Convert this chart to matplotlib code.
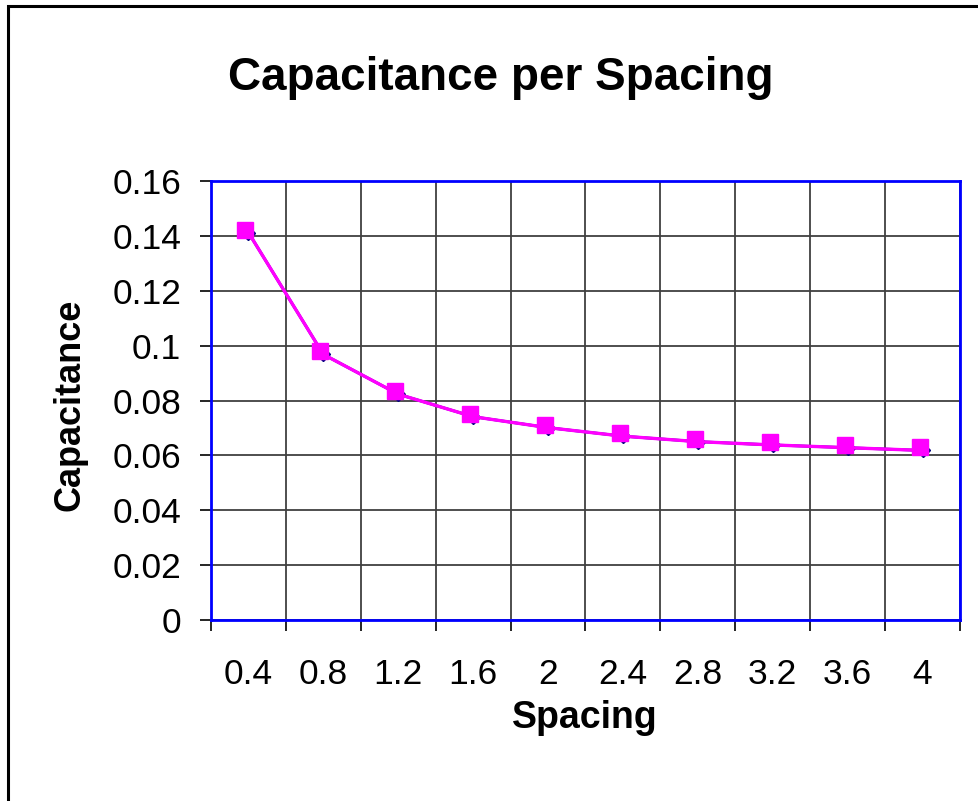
import matplotlib.pyplot as plt
import matplotlib.transforms as mtransforms
from matplotlib.patches import Rectangle

plt.rcParams['font.family'] = ['Liberation Sans', 'DejaVu Sans']

spacing = ['0.4', '0.8', '1.2', '1.6', '2', '2.4', '2.8', '3.2', '3.6', '4']
capacitance = [0.1412, 0.0968, 0.0823, 0.0741, 0.0701, 0.0670, 0.0650, 0.0638, 0.0628, 0.0618]
y_ticks = [0, 0.02, 0.04, 0.06, 0.08, 0.1, 0.12, 0.14, 0.16]
y_labels = ['0', '0.02', '0.04', '0.06', '0.08', '0.1', '0.12', '0.14', '0.16']

fig = plt.figure(figsize=(9.79, 8.01), dpi=100)
ax = fig.add_axes([211 / 979, 1 - 620 / 801, 749 / 979, 439 / 801])

x = list(range(len(spacing)))

# diamond series underneath, square series drawn slightly up-left like Excel
ax.plot(x, capacitance, color='#000080', lw=2, marker='D', ms=7, zorder=3)
off = mtransforms.ScaledTranslation(-3 / 100, 3 / 100, fig.dpi_scale_trans)
ax.plot(x, capacitance, color='#ff00ff', lw=2.4, zorder=4)
ax.plot(x, capacitance, ls='none', marker='s', ms=12, color='#ff00ff',
        transform=ax.transData + off, zorder=5)

ax.set_xlim(-0.5, len(spacing) - 0.5)
ax.set_ylim(0, 0.16)
ax.set_yticks(y_ticks)
ax.set_yticklabels(y_labels, fontsize=25.5)
ax.set_xticks([i + 0.5 for i in range(-1, len(spacing))], minor=False)
ax.set_xticklabels([''] * (len(spacing) + 1))
ax.set_xticks(x, minor=True)
ax.set_xticklabels(spacing, minor=True, fontsize=25.5)
ax.tick_params(axis='x', which='major', length=8, width=1.2, direction='out')
ax.tick_params(axis='x', which='minor', length=0, pad=27)
ax.tick_params(axis='y', length=8, width=1.2, direction='out', pad=13.5)

ax.grid(True, which='major', color='#404040', lw=1.3)
ax.set_axisbelow(True)
for s in ax.spines.values():
    s.set_color('#0000ff')
    s.set_linewidth(2)

fig.text(501 / 979, 1 - 90 / 801, 'Capacitance per Spacing', fontsize=33,
         fontweight='bold', ha='center', va='baseline')
fig.text(70 / 979, 1 - 405 / 801, 'Capacitance', fontsize=26, fontweight='bold',
         rotation=90, ha='center', va='center')
fig.text(585 / 979, 1 - 718 / 801, 'Spacing', fontsize=27, fontweight='bold',
         ha='center', va='center')

fig.patches.append(Rectangle((8 / 979, -0.1), 1.2, 1 - 6 / 801 + 0.1, transform=fig.transFigure,
                             fill=False, edgecolor='black', lw=2.2))

fig.savefig('out.png', dpi=100)
